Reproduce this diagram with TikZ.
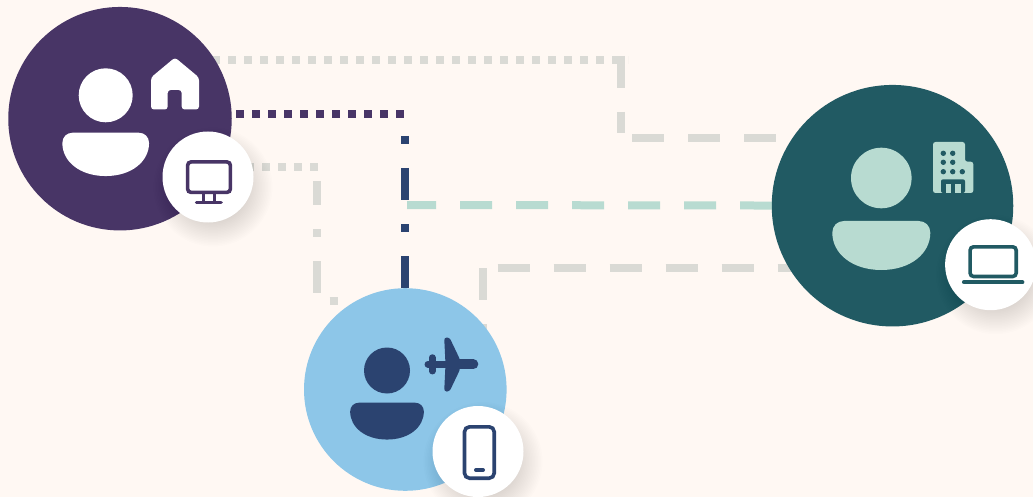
\documentclass[tikz,border=0pt]{standalone}
\usetikzlibrary{calc}
\pgfdeclarelayer{bg}
\pgfsetlayers{bg,main}
\definecolor{paper}{HTML}{FFF8F3}
\definecolor{plum}{HTML}{483566}
\definecolor{deepteal}{HTML}{215A63}
\definecolor{sky}{HTML}{8DC6E8}
\definecolor{navy}{HTML}{2B4370}
\definecolor{mint}{HTML}{B8DBD1}
\definecolor{linegray}{HTML}{DADAD5}
\tikzset{
  x=1pt,y=-1pt,
  disc/.style={circle,inner sep=0pt,outer sep=0pt,minimum size=#1},
  badge/.style={disc=91pt,fill=white},
  wire/.style={line width=8pt,line cap=butt},
  dotted wire/.style={wire,dash pattern=on 8pt off 8pt},
  long wire/.style={wire,dash pattern=on 32pt off 24pt},
  mixed wire/.style={wire,dash pattern=on 8pt off 24pt on 32pt off 24pt},
  outline/.style={line width=3.6pt,rounded corners=3.5pt},
  capline/.style={line cap=round,line width=#1},
}
\newcommand{\personbody}[4]{% x, top y, scale, colour
  \fill[#4,shift={(#1,#2)},scale=#3]
    (-38,0) -- (38,0) .. controls (45,0) and (50,5) .. (50,12)
    .. controls (50,33) and (30,50) .. (0,50)
    .. controls (-30,50) and (-50,33) .. (-50,12)
    .. controls (-50,5) and (-45,0) .. (-38,0) -- cycle;}
\newcommand{\softshadow}[3]{% x, y, radius
  \foreach \d in {14,12.5,...,-10}{
    \fill[black,opacity=.009] (#1+5,#2+10) circle[radius=#3+\d];}}
\begin{document}
\begin{tikzpicture}
\useasboundingbox (0,0) rectangle (1033,497);

% large discs
\node[disc=223.5pt,fill=plum] (purple) at (120,118.7) {};
\node[disc=202.6pt,fill=sky] (blue) at (405.3,389.5) {};
\node[disc=241.5pt,fill=deepteal] (teal) at (892.5,205.7) {};

% person glyphs
\node[disc=54pt,fill=white] (purplehead) at (105.7,95.3) {};
\personbody{105.7}{132.7}{.867}{white}
\node[disc=46pt,fill=navy] (bluehead) at (387,370.5) {};
\personbody{387}{402.7}{.737}{navy}
\node[disc=60.6pt,fill=mint] (tealhead) at (881.3,178) {};
\personbody{881.3}{221}{.98}{mint}

% house
\fill[white,rounded corners=3pt] (175,57.5) -- (199,77.5) -- (199,109.5) -- (181.7,109.5)
  -- (181.7,90) -- (167.7,90) -- (167.7,109.5) -- (151,109.5) -- (151,77.5) -- cycle;

% plane
\draw[navy,capline=10pt] (450,364.3) -- (473.3,364.3);
\draw[navy,capline=7pt] (428,364.3) -- (450,364.3);
\draw[navy,capline=6.5pt] (432.3,357.5) -- (432.3,371.2);
\fill[navy,rounded corners=2.5pt] (444.2,337.5) -- (449.5,337.5) -- (460,359.5) -- (460,369.5)
  -- (449.5,391.5) -- (444.2,391.5) -- (445.5,364.3) -- cycle;

% building
\fill[mint,rounded corners=2.5pt] (933,193) -- (933,142) -- (965,142) -- (965,161.7)
  -- (973.3,161.7) -- (973.3,193) -- cycle;
\foreach \px in {943.3,952.7}{\foreach \py in {153.3,162.3,171.7}{
  \fill[deepteal] (\px,\py) circle[radius=2.7];}}
\fill[deepteal] (962.3,171.7) circle[radius=2.7];
\fill[deepteal,rounded corners=2pt] (941,193) -- (941,179.3) -- (965,179.3) -- (965,193) -- cycle;
\fill[mint] (945.7,184) rectangle (950.7,193);
\fill[mint] (955,184) rectangle (961,193);

% badges with shadows
\softshadow{208}{177}{45.5}
\softshadow{478}{451.5}{45.5}
\softshadow{990.6}{264.7}{45.5}
\node[badge] (monitorbadge) at (208,177) {};
\node[badge] (phonebadge) at (478,451.5) {};
\node[badge] (laptopbadge) at (990.6,264.7) {};

% monitor
\draw[plum,outline] (187.6,161.9) rectangle (230.4,192.4);
\draw[plum,line width=2.8pt] (203.5,193) -- (203.5,202);
\draw[plum,line width=2.8pt] (214.5,193) -- (214.5,202);
\draw[plum,capline=3.2pt] (196.5,202.3) -- (221.2,202.3);

% phone
\draw[navy,line width=3.6pt,rounded corners=5pt] (464.5,426.8) rectangle (494.2,478.2);
\draw[navy,capline=4pt] (476,470) -- (483,470);

% laptop
\draw[deepteal,outline] (970.1,246.8) rectangle (1016.2,276.5);
\draw[deepteal,capline=4.2pt] (964,282.2) -- (1022.3,282.2);

% connectors, behind everything
\coordinate (topa) at (116,60);
\coordinate (topb) at (628,60);
\coordinate (topc) at (621,56);
\coordinate (topd) at (621,132.7);
\coordinate (tope) at (632,138);
\coordinate (topf) at (800,138);
\coordinate (mida) at (198,166.7);
\coordinate (midb) at (318,166.7);
\coordinate (midc) at (316.7,181);
\coordinate (midd) at (316.7,301);
\coordinate (mide) at (329.5,301);
\coordinate (midf) at (337.5,301);
\coordinate (pura) at (124,114);
\coordinate (purb) at (404,114);
\coordinate (blua) at (405.3,136);
\coordinate (grna) at (407,205);
\coordinate (lowa) at (483.3,268.3);
\coordinate (lowb) at (497.7,268);
\coordinate (lowc) at (795,268);
\begin{pgfonlayer}{bg}
  \fill[paper] (0,0) rectangle (1033,497);
  \draw[dotted wire,linegray] (topa) -- (topb);
  \draw[long wire,linegray] (topc) -- (topd);
  \draw[long wire,linegray] (tope) -- (topf);
  \draw[dotted wire,linegray] (mida) -- (midb);
  \draw[mixed wire,dash phase=40pt,linegray] (midc) -- (midd);
  \draw[wire,linegray] (mide) -- (midf);
  \draw[long wire,linegray] (lowb) -- (lowc);
  \draw[long wire,linegray] (lowa) -- (blue.center -| lowa);
  \draw[dotted wire,plum] (pura) -- (purb);
  \draw[mixed wire,navy] (blua) -- (blue.center);
  \draw[long wire,dash phase=3pt,mint] (grna) -- (teal.center);
\end{pgfonlayer}
\end{tikzpicture}
\end{document}
